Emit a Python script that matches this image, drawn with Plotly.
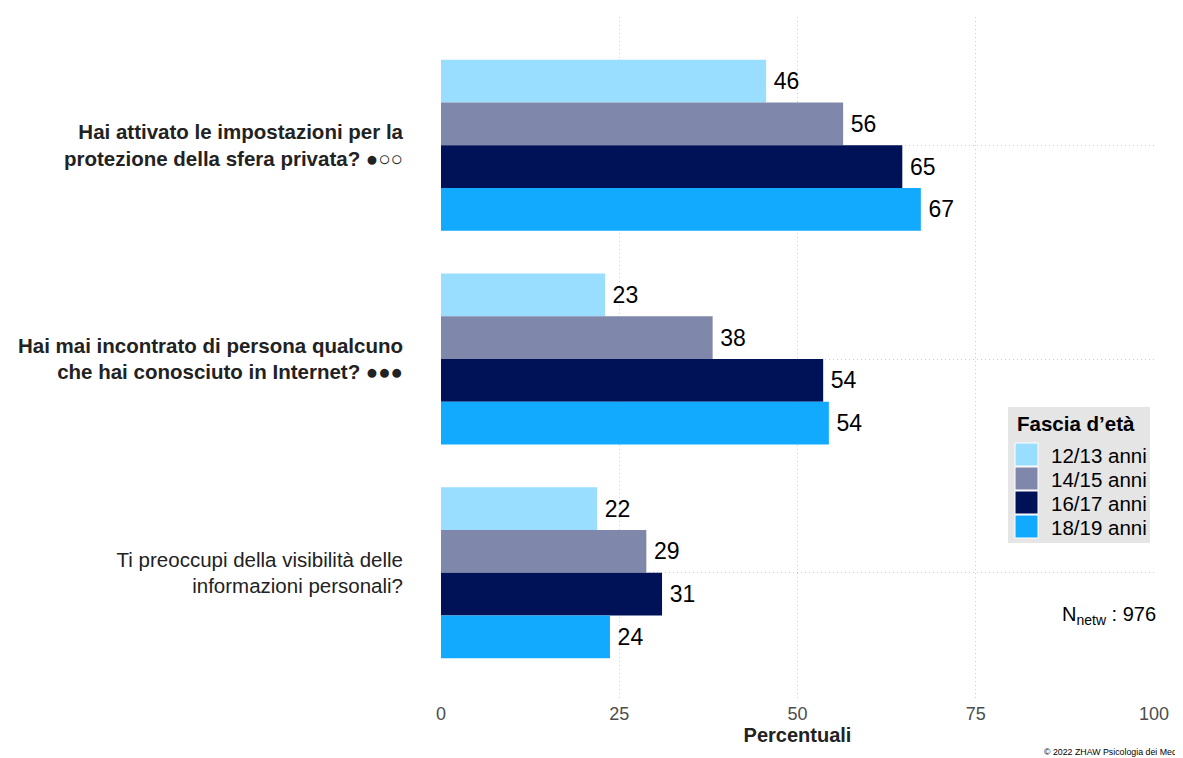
"""Horizontal grouped bar chart: online privacy behaviour by age group."""

import plotly.graph_objects as go

# Data
QUESTIONS = ["privacy", "meet", "visibility"]
QUESTION_LABELS = [
    "<b>Hai attivato le impostazioni per la<br>protezione della sfera privata? ●○○</b>",
    "<b>Hai mai incontrato di persona qualcuno<br>che hai conosciuto in Internet? ●●●</b>",
    "Ti preoccupi della visibilità delle<br>informazioni personali?",
]
AGE_GROUPS = ["12/13 anni", "14/15 anni", "16/17 anni", "18/19 anni"]
VALUES = {
    "12/13 anni": [45.6, 23.0, 21.9],
    "14/15 anni": [56.4, 38.1, 28.8],
    "16/17 anni": [64.7, 53.6, 31.0],
    "18/19 anni": [67.3, 54.4, 23.7],
}
X_TICKS = [0, 25, 50, 75, 100]
N_TOTAL = 976

COLOURS = {
    "12/13 anni": "#99DEFF",
    "14/15 anni": "#7F88AB",
    "16/17 anni": "#001257",
    "18/19 anni": "#12AAFF",
}
FONT = "Liberation Sans, Arial, sans-serif"
GRID = dict(showgrid=True, gridcolor="#CCCCCC", griddash="1px,3px", gridwidth=1,
            zeroline=False, showline=False, ticks="")

# Figure geometry (the page body adds an 8px offset)
W, H = 1175, 750
M_L, M_R, M_T, M_B = 433, 29, 9, 57
PW, PH = W - M_L - M_R, H - M_T - M_B


def px(x, y):
    """Figure pixel -> paper coordinates."""
    return (x - M_L) / PW, (H - M_B - y) / PH


fig = go.Figure()
for group in AGE_GROUPS:
    fig.add_trace(
        go.Bar(
            y=QUESTIONS,
            x=VALUES[group],
            orientation="h",
            name=group,
            marker=dict(color=COLOURS[group], line=dict(width=0)),
            texttemplate="\u2009%{x:.0f}",
            textposition="outside",
            textfont=dict(size=23, color="#000000", family=FONT),
            cliponaxis=False,
            showlegend=False,
        )
    )

fig.update_layout(
    width=W,
    height=H,
    barmode="group",
    bargap=0.2,
    bargroupgap=0,
    plot_bgcolor="white",
    paper_bgcolor="white",
    font=dict(family=FONT, color="#222222"),
    margin=dict(l=M_L, r=M_R, t=M_T, b=M_B, autoexpand=False),
    showlegend=False,
)

fig.update_xaxes(
    range=[0, 100],
    tickvals=X_TICKS,
    tickfont=dict(size=18, color="#4D4D4D"),
    title=dict(text="<b>Percentuali</b>", font=dict(size=20, color="#222222"), standoff=2),
    **GRID,
)
fig.update_yaxes(
    range=[2.6, -0.6],
    tickvals=QUESTIONS,
    ticktext=QUESTION_LABELS,
    tickfont=dict(size=20.5, color="#222222"),
    ticklabelstandoff=37,
    **GRID,
)

# Legend drawn by hand so the keys match the reference size
x0, y0 = px(1000, 535)
x1, y1 = px(1142, 399)
fig.add_shape(type="rect", xref="paper", yref="paper", x0=x0, y0=y0, x1=x1, y1=y1,
              fillcolor="#E5E5E5", line=dict(width=0), layer="above")
tx, ty = px(1007, 415)
fig.add_annotation(text="<b>Fascia d’età</b>", xref="paper", yref="paper", x=tx, y=ty,
                   xanchor="left", yanchor="middle", showarrow=False,
                   font=dict(size=20.5, color="#000000"))
for i, group in enumerate(AGE_GROUPS):
    top = 435 + 24 * i
    sx0, sy0 = px(1007, top + 23)
    sx1, sy1 = px(1030, top)
    fig.add_shape(type="rect", xref="paper", yref="paper", x0=sx0, y0=sy0, x1=sx1, y1=sy1,
                  fillcolor=COLOURS[group], line=dict(color="white", width=1), layer="above")
    lx, ly = px(1041, top + 12)
    fig.add_annotation(text=group, xref="paper", yref="paper", x=lx, y=ly,
                       xanchor="left", yanchor="middle", showarrow=False,
                       font=dict(size=20.5, color="#000000"))

nx, ny = px(1150, 607)
fig.add_annotation(
    text=f"N<sub>netw</sub> : {N_TOTAL}",
    xref="paper", yref="paper", x=nx, y=ny,
    xanchor="right", yanchor="middle", showarrow=False,
    font=dict(size=20, color="#000000"),
)
cx, cy = px(1034, 737)
fig.add_annotation(
    text="© 2022 ZHAW Psicologia dei Media",
    xref="paper", yref="paper", x=cx, y=cy,
    xanchor="left", yanchor="top", showarrow=False,
    font=dict(size=8.8, color="#000000"),
)

fig.write_html("out.html")
